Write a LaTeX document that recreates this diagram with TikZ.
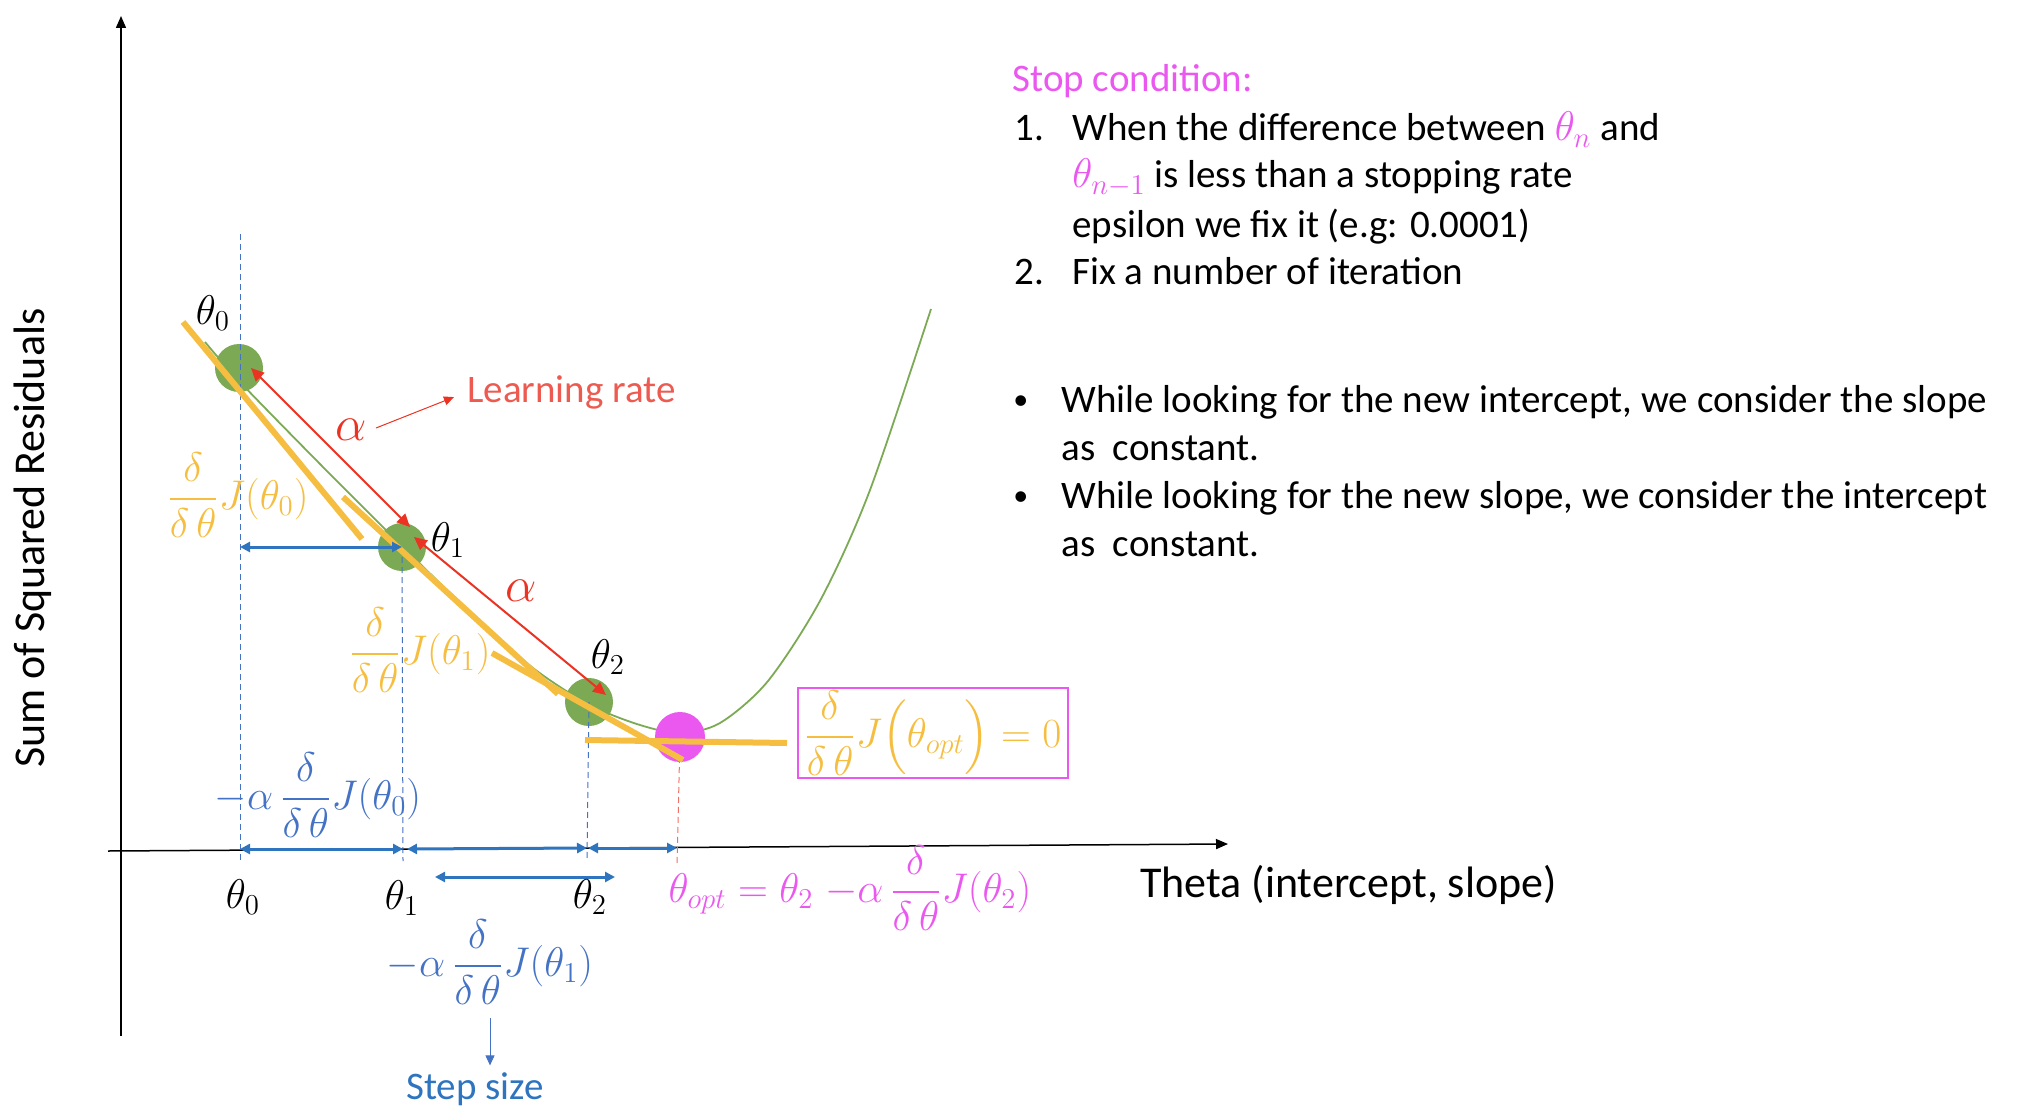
\documentclass[tikz,border=0pt]{standalone}
\usepackage{fontspec}
\setmainfont{Carlito}
\usepackage{amsmath}
\usepackage{tikz}
\usetikzlibrary{positioning, arrows.meta}

\definecolor{gdgreen}{RGB}{124,170,84}
\definecolor{gdyellow}{RGB}{246,190,65}
\definecolor{gdmagenta}{RGB}{234,88,240}
\definecolor{gdred}{RGB}{234,51,35}
\definecolor{lrred}{RGB}{236,90,80}
\definecolor{gdblue}{RGB}{46,116,190}
\definecolor{txtblue}{RGB}{68,114,196}

\begin{document}
\begin{tikzpicture}[
        x=0.5pt, y=-0.5pt,
        ball/.style={circle, fill=#1, minimum size=24pt, inner sep=0pt},
        tangent/.style={draw=gdyellow, line width=3pt},
        guide/.style={densely dashed, line width=0.5pt, draw=txtblue},
        axis/.style={draw=black, line width=0.75pt, -{Triangle[length=6pt,width=5pt]}},
        alphaarrow/.style={draw=gdred, line width=1pt, {Triangle[length=6.5pt,width=6pt]}-{Triangle[length=6.5pt,width=6pt]}},
        steparrow/.style={draw=gdblue, line width=1.5pt, {Triangle[length=5pt,width=5pt]}-{Triangle[length=5pt,width=5pt]}},
        mathlbl/.style={font=\fontsize{20}{24}\selectfont},
        bodytext/.style={font=\fontsize{19.5}{24}\selectfont, anchor=base west, inner sep=0pt},
        dot/.style={font=\fontsize{15}{18}\selectfont, anchor=base west, inner sep=0pt}
    ]
    \useasboundingbox (0,0) rectangle (2038,1118);

    % axes
    \coordinate (yb) at (121,1036);
    \coordinate (yt) at (121,16);
    \coordinate (xl) at (108,851);
    \coordinate (xr) at (1228,844);
    \draw[axis] (yb) -- (yt);
    \draw[axis] (xl) -- (xr);
    \node[font=\fontsize{22}{26}\selectfont, rotate=90] (ylab) at (33,538) {Sum of Squared Residuals};
    \node[bodytext, font=\fontsize{22}{26}\selectfont] (xlab) at (1140,897) {Theta (intercept, slope)};

    % cost curve
    \draw[gdgreen, line width=0.9pt] plot[smooth] coordinates {(205,342) (240,382) (320,464) (402,546) (470,612) (533,668) (590,705) (640,725) (680,733) (720,723) (768,681) (821,599) (870,490) (931,309)};

    \node[ball=gdgreen] (t0) at (239,368) {};
    \node[ball=gdgreen] (t1) at (402,547) {};
    \node[ball=gdgreen] (t2) at (589,702) {};
    \node[ball=gdmagenta, minimum size=25pt] (topt) at (680,737) {};

    % guides down to the axis
    \coordinate (g0) at (240,234);
    \coordinate (a0) at (240,849);
    \coordinate (a1) at (403,849);
    \coordinate (a2) at (587,848);
    \coordinate (aopt) at (677,848);
    \draw[guide] (g0) -- ([yshift=-6pt]a0);
    \draw[guide] (t1.center) -- ([yshift=-6pt]a1);
    \draw[guide] (t2.center) -- ([yshift=-6pt]a2);
    \draw[guide, draw=gdred!70] (topt.center) -- ([yshift=-9pt]aopt);

    % tangents
    \draw[tangent] (183,322) -- (362,539);
    \draw[tangent] (343,497) -- (558,694);
    \draw[tangent] (492,653) -- (683,760);
    \draw[tangent] (585,740) -- (787,743);

    % learning rate
    \draw[alphaarrow] ([xshift=6pt]t0.center) -- ([xshift=4pt,yshift=10pt]t1.center);
    \draw[alphaarrow] ([xshift=6pt,yshift=5pt]t1.center) -- ([xshift=8.5pt,yshift=3.5pt]t2.center);
    \node[mathlbl, font=\fontsize{25}{28}\selectfont, text=gdred] (al0) at (351,430) {$\alpha$};
    \node[mathlbl, font=\fontsize{25}{28}\selectfont, text=gdred] (al1) at (521,591) {$\alpha$};
    \node[bodytext, text=lrred] (lr) at (467,402) {Learning rate};
    \coordinate (lrs) at (376,428);
    \draw[draw=gdred, line width=0.5pt, -{Triangle[length=5pt,width=4.5pt]}, shorten >=7pt] (lrs) -- (lr.west);

    % step sizes
    \coordinate (h0) at (240,547);
    \coordinate (b1) at (435,877);
    \coordinate (b2) at (615,877);
    \draw[steparrow] (h0) -- (t1.center);
    \draw[steparrow] (a0) -- (a1);
    \draw[steparrow] ([xshift=2pt]a1) -- (a2);
    \draw[steparrow] ([xshift=0.5pt]a2) -- (aopt);
    \draw[steparrow] (b1) -- (b2);

    % point labels
    \node[mathlbl] (l0) at (213,313) {$\theta_0$};
    \node[mathlbl] (l1) at (448,540) {$\theta_1$};
    \node[mathlbl] (l2) at (608,657) {$\theta_2$};
    \node[mathlbl] (x0) at (243,897) {$\theta_0$};
    \node[mathlbl] (x1) at (402,898) {$\theta_1$};
    \node[mathlbl] (x2) at (590,897) {$\theta_2$};

    \node[mathlbl, text=gdyellow] (j0) at (238,495) {$\dfrac{\delta}{\delta\,\theta}J(\theta_0)$};
    \node[mathlbl, text=gdyellow] (j1) at (420,650) {$\dfrac{\delta}{\delta\,\theta}J(\theta_1)$};
    \node[mathlbl, text=gdyellow, draw=gdmagenta, line width=0.6pt, minimum width=135pt, minimum height=45pt, inner sep=1pt] (jopt) at (933,733)
        {$\dfrac{\delta}{\delta\,\theta}J\Bigl(\theta_{opt}\Bigr) = 0$};
    \node[mathlbl, text=gdmagenta] (upd) at (850,888) {$\theta_{opt} = \theta_2\; {-\alpha}\,\dfrac{\delta}{\delta\,\theta}J(\theta_2)$};

    \node[mathlbl, text=txtblue] (s0) at (318,795) {$-\alpha\,\dfrac{\delta}{\delta\,\theta}J(\theta_0)$};
    \node[mathlbl, text=txtblue] (s1) at (490,962) {$-\alpha\,\dfrac{\delta}{\delta\,\theta}J(\theta_1)$};
    \node[font=\fontsize{19.5}{22}\selectfont, text=gdblue] (ss) at (475,1089) {Step size};
    \coordinate (ssa) at (490,1018);
    \draw[draw=txtblue, line width=0.5pt, -{Triangle[length=5pt,width=4.5pt]}] (ssa) -- (ss.north -| ssa);

    % notes
    \node[bodytext, text=gdmagenta] (sc) at (1012,92) {Stop condition:};
    \node[bodytext] (n1) at (1014,141) {1.};
    \node[bodytext] (c1) at (1072,141) {When the difference between {\color{gdmagenta}$\theta_n$} and};
    \node[bodytext] (c2) at (1072,188) {{\color{gdmagenta}$\theta_{n-1}$} is less than a stopping rate};
    \node[bodytext] (c3) at (1072,237) {epsilon we fix it (e.g: 0.0001)};
    \node[bodytext] (n2) at (1014,285) {2.};
    \node[bodytext] (c4) at (1072,285) {Fix a number of iteration};
    \node[dot] (d1) at (1013,409) {•};
    \node[bodytext] (e1) at (1061,412) {While looking for the new intercept, we consider the slope};
    \node[bodytext] (e2) at (1061,460) {as\ \ constant.};
    \node[dot] (d2) at (1013,505) {•};
    \node[bodytext] (e3) at (1061,508) {While looking for the new slope, we consider the intercept};
    \node[bodytext] (e4) at (1061,556) {as\ \ constant.};
\end{tikzpicture}
\end{document}
